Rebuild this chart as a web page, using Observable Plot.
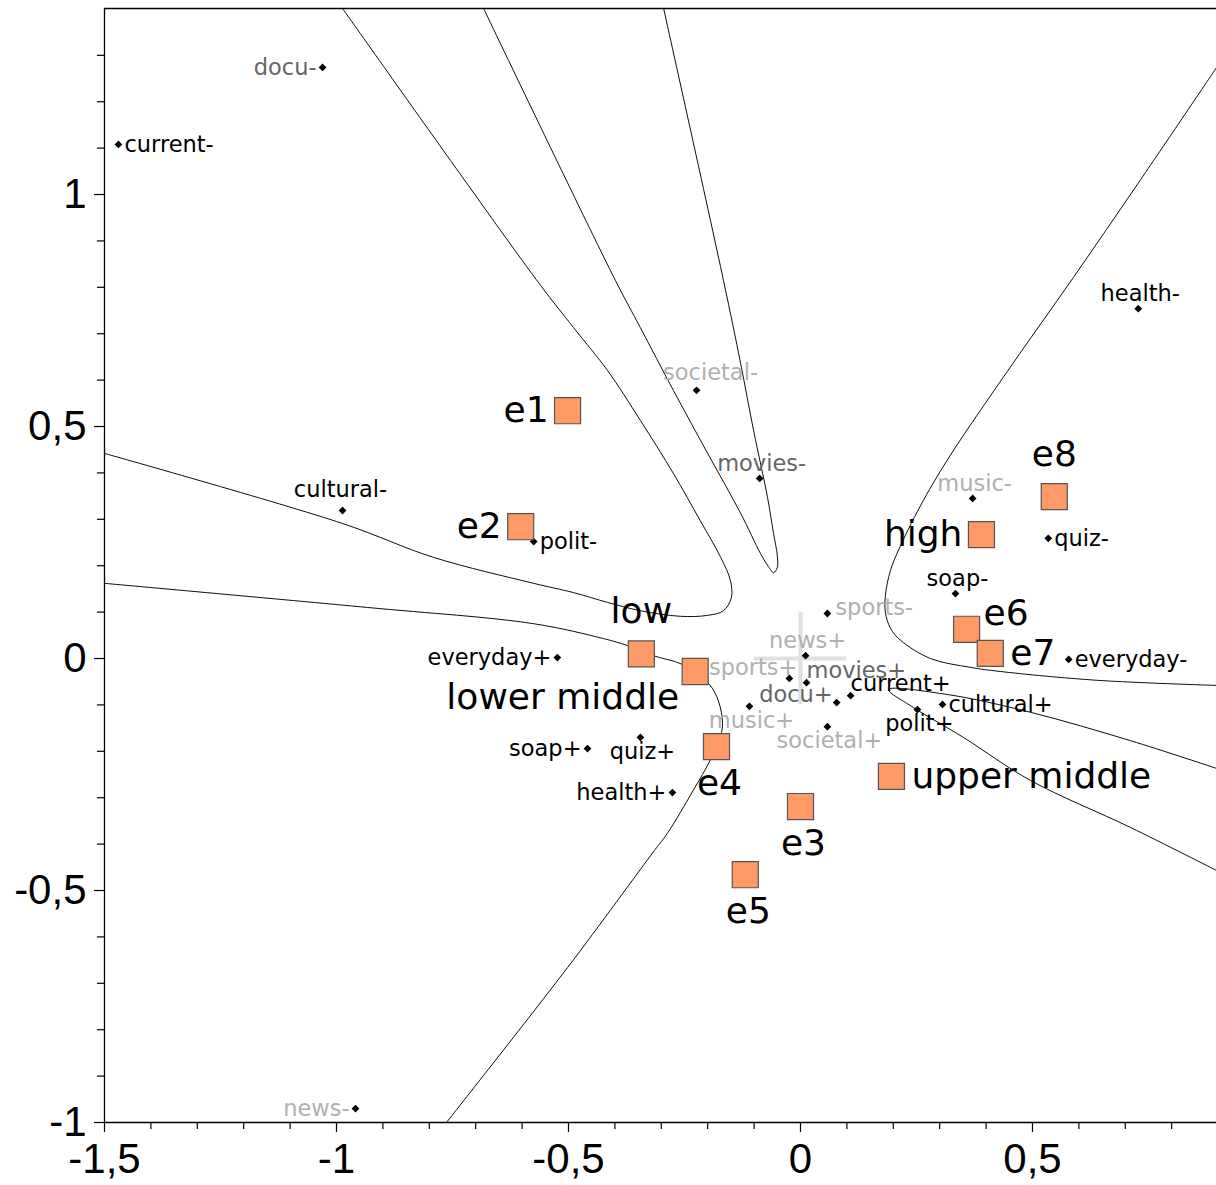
<!DOCTYPE html>
<html>
<head>
<meta charset="utf-8">
<script src="https://cdn.jsdelivr.net/npm/d3@7"></script>
<script src="https://cdn.jsdelivr.net/npm/@observablehq/plot@0.6"></script>
<style>
  html, body { margin: 0; padding: 0; background: #fff; }
  #chart svg { display: block; }
</style>
</head>
<body>
<div id="chart"></div>
<script>
// ---- axis ticks ----
const xMajor = [-1.5, -1, -0.5, 0, 0.5];
const xMinor = [-1.4, -1.3, -1.2, -1.1, -0.9, -0.8, -0.7, -0.6, -0.4, -0.3, -0.2, -0.1,
                0.1, 0.2, 0.3, 0.4, 0.6, 0.7, 0.8];
const yMajor = [-1, -0.5, 0, 0.5, 1];
const yMinor = [-0.9, -0.8, -0.7, -0.6, -0.4, -0.3, -0.2, -0.1, 0.1, 0.2, 0.3, 0.4,
                0.6, 0.7, 0.8, 0.9, 1.1, 1.2, 1.3];
const xDomain = [-1.5, 0.8966];
const yDomain = [-1, 1.4009];

// ---- active categories (diamonds) ----
const catLabels = ["docu-", "current-", "societal-", "movies-", "cultural-", "polit-",
  "health-", "music-", "quiz-", "soap-", "sports-", "news+", "sports+", "movies+",
  "docu+", "current+", "polit+", "cultural+", "music+", "societal+", "everyday-",
  "everyday+", "soap+", "quiz+", "health+", "news-"];
const catX = [-1.030, -1.470, -0.224, -0.088, -0.987, -0.575,
  0.728, 0.371, 0.534, 0.334, 0.058, 0.011, -0.024, 0.013,
  0.078, 0.108, 0.252, 0.306, -0.110, 0.058, 0.578,
  -0.524, -0.459, -0.345, -0.276, -0.959];
const catY = [1.274, 1.108, 0.578, 0.388, 0.319, 0.252,
  0.754, 0.345, 0.259, 0.140, 0.097, 0.006, -0.043, -0.052,
  -0.095, -0.080, -0.110, -0.099, -0.103, -0.147, -0.002,
  0.002, -0.194, -0.170, -0.289, -0.970];
// representation quality: 0 good, 1 medium, 2 poor
const catQuality = [1, 0, 2, 1, 0, 0,
  0, 2, 0, 0, 2, 2, 2, 1,
  1, 0, 0, 0, 2, 2, 0,
  0, 0, 0, 0, 2];
// label side codes
const catSide = ["l", "r", "tR", "t", "tt", "r",
  "t", "t", "r", "t", "rt", "t", "tl", "tr",
  "lt", "tr", "b", "r", "b", "b", "r",
  "l", "l", "b", "l", "l"];

// ---- supplementary individuals / levels (squares) ----
const supLabels = ["e1", "e2", "low", "lower middle", "e4", "e3", "e5",
  "upper middle", "e6", "e7", "high", "e8"];
const supX = [-0.502, -0.603, -0.343, -0.227, -0.181, 0.000, -0.119,
  0.196, 0.358, 0.409, 0.390, 0.547];
const supY = [0.534, 0.284, 0.010, -0.028, -0.190, -0.319, -0.466,
  -0.254, 0.063, 0.011, 0.267, 0.349];
const supSide = ["l", "l", "t", "bl", "b", "b", "b",
  "r", "tr", "r", "l", "t"];

// ---- region boundary curves ----
const curveA = [[-0.987, 1.401], [-0.754, 1.073], [-0.560, 0.804], [-0.489, 0.713],
  [-0.416, 0.621], [-0.345, 0.513], [-0.274, 0.399], [-0.216, 0.297], [-0.172, 0.218],
  [-0.151, 0.168], [-0.149, 0.131], [-0.166, 0.103], [-0.200, 0.093], [-0.259, 0.091],
  [-0.345, 0.103], [-0.416, 0.121], [-0.489, 0.142], [-0.575, 0.162], [-0.791, 0.218],
  [-0.987, 0.291], [-1.500, 0.442]];
const curveB = [[-0.683, 1.401], [-0.399, 0.815], [-0.345, 0.713], [-0.274, 0.578],
  [-0.200, 0.442], [-0.129, 0.313], [-0.086, 0.226], [-0.069, 0.198], [-0.058, 0.185],
  [-0.050, 0.196], [-0.050, 0.222], [-0.058, 0.269], [-0.071, 0.347], [-0.101, 0.491],
  [-0.129, 0.636], [-0.166, 0.815], [-0.295, 1.401]];
const curveC = [[0.897, 1.274], [0.733, 1.032], [0.588, 0.821], [0.446, 0.619],
  [0.323, 0.438], [0.265, 0.341], [0.216, 0.244], [0.194, 0.190], [0.183, 0.136],
  [0.183, 0.099], [0.194, 0.065], [0.216, 0.039], [0.280, 0.000], [0.366, -0.019],
  [0.431, -0.028], [0.640, -0.047], [0.897, -0.058]];
const curveD = [[-1.500, 0.162], [-0.933, 0.110], [-0.575, 0.075], [-0.425, 0.043],
  [-0.373, 0.028], [-0.317, 0.006], [-0.254, -0.013], [-0.198, -0.054], [-0.177, -0.091],
  [-0.168, -0.140], [-0.172, -0.166], [-0.194, -0.218], [-0.231, -0.284], [-0.287, -0.377],
  [-0.315, -0.414], [-0.502, -0.666], [-0.763, -1.000]];
const curveE = [[0.897, -0.237], [0.711, -0.177], [0.496, -0.116], [0.319, -0.078],
  [0.190, -0.067], [0.244, -0.106], [0.351, -0.170], [0.496, -0.263], [0.711, -0.364],
  [0.897, -0.457]];

// ---- build tables ----
const cats = catLabels.map((label, i) => ({label, x: catX[i], y: catY[i], q: catQuality[i], side: catSide[i]}));
const sups = supLabels.map((label, i) => ({label, x: supX[i], y: supY[i], side: supSide[i]}));
const curves = [curveA, curveB, curveC, curveD, curveE].map((c, k) => c.map(([x, y]) => ({x, y, k})));

const toneColor = ["#000000", "#666666", "#b0b0b0"];
const fmt = d => String(d).replace(".", ",");

const smallSides = {
  l:  {textAnchor: "end",    dx: -6, dy: 0},
  lt: {textAnchor: "end",    dx: -4, dy: -8},
  r:  {textAnchor: "start",  dx: 6,  dy: 0},
  rt: {textAnchor: "start",  dx: 8,  dy: -6},
  t:  {textAnchor: "middle", dx: 2,  dy: -15},
  tR: {textAnchor: "middle", dx: 14, dy: -18},
  tt: {textAnchor: "middle", dx: -2, dy: -21},
  b:  {textAnchor: "middle", dx: 2,  dy: 14},
  tl: {textAnchor: "end",    dx: 8,  dy: -11},
  tr: {textAnchor: "start",  dx: 0,  dy: -12}
};
const bigSides = {
  l:  {textAnchor: "end",    dx: -19, dy: 0},
  r:  {textAnchor: "start",  dx: 20,  dy: 0},
  t:  {textAnchor: "middle", dx: 0,   dy: -42},
  b:  {textAnchor: "middle", dx: 3,   dy: 37},
  tr: {textAnchor: "start",  dx: 17,  dy: -16},
  bl: {textAnchor: "end",    dx: -16, dy: 26}
};

const tickFont = "Liberation Sans, Arial, sans-serif";
const labelFont = "DejaVu Sans, Verdana, sans-serif";

const marks = [];
// origin cross
marks.push(Plot.ruleY([0], {x1: -0.1, x2: 0.1, stroke: "#e0e0e0", strokeWidth: 4}));
marks.push(Plot.ruleX([0], {y1: -0.1, y2: 0.1, stroke: "#e0e0e0", strokeWidth: 4}));
// curves
for (const c of curves) {
  marks.push(Plot.line(c, {x: "x", y: "y", stroke: "#000", strokeWidth: 0.95, curve: "catmull-rom", clip: true}));
}
// frame lines
marks.push(Plot.ruleX([xDomain[0]], {stroke: "#000", strokeWidth: 1.3}));
marks.push(Plot.ruleY([yDomain[0]], {stroke: "#000", strokeWidth: 1.3}));
marks.push(Plot.ruleY([yDomain[1]], {stroke: "#000", strokeWidth: 1.3}));
// axes
marks.push(Plot.axisX({ticks: xMinor, tickSize: 7, tickFormat: () => "", label: null, strokeWidth: 1.2}));
marks.push(Plot.axisY({ticks: yMinor, tickSize: 7, tickFormat: () => "", label: null, strokeWidth: 1.2}));
marks.push(Plot.axisX({ticks: xMajor, tickSize: 10, tickPadding: 11, tickFormat: fmt, label: null, strokeWidth: 1.2,
  fontSize: 42, fontFamily: tickFont, fill: "#000"}));
marks.push(Plot.axisY({ticks: yMajor, tickSize: 10, tickPadding: 8, tickFormat: fmt, label: null, strokeWidth: 1.2,
  fontSize: 42, fontFamily: tickFont, fill: "#000"}));
// diamonds
marks.push(Plot.dot(cats, {x: "x", y: "y", symbol: "diamond2", r: 3.5, fill: "#000", stroke: "none"}));
// small labels
for (const [side, o] of Object.entries(smallSides)) {
  marks.push(Plot.text(cats.filter(d => d.side === side), {
    x: "x", y: "y", text: "label", fill: d => toneColor[d.q],
    textAnchor: o.textAnchor, dx: o.dx, dy: o.dy,
    fontSize: 22.5, fontFamily: labelFont
  }));
}
// squares
marks.push(Plot.dot(sups, {x: "x", y: "y", symbol: "square", r: 14.7, fill: "#ff9966", stroke: "#555", strokeWidth: 1.2}));
// big labels
for (const [side, o] of Object.entries(bigSides)) {
  marks.push(Plot.text(sups.filter(d => d.side === side), {
    x: "x", y: "y", text: "label", fill: "#000",
    textAnchor: o.textAnchor, dx: o.dx, dy: o.dy,
    fontSize: 36, fontFamily: labelFont
  }));
}

const chart = Plot.plot({
  width: 1216,
  height: 1185,
  marginLeft: 104,
  marginRight: 0,
  marginTop: 8,
  marginBottom: 63,
  x: {domain: xDomain, label: null},
  y: {domain: yDomain, label: null},
  color: {type: "identity"},
  style: {background: "#fff", color: "#000", fontFamily: tickFont, overflow: "visible"},
  marks
});
document.getElementById("chart").appendChild(chart);
</script>
</body>
</html>
